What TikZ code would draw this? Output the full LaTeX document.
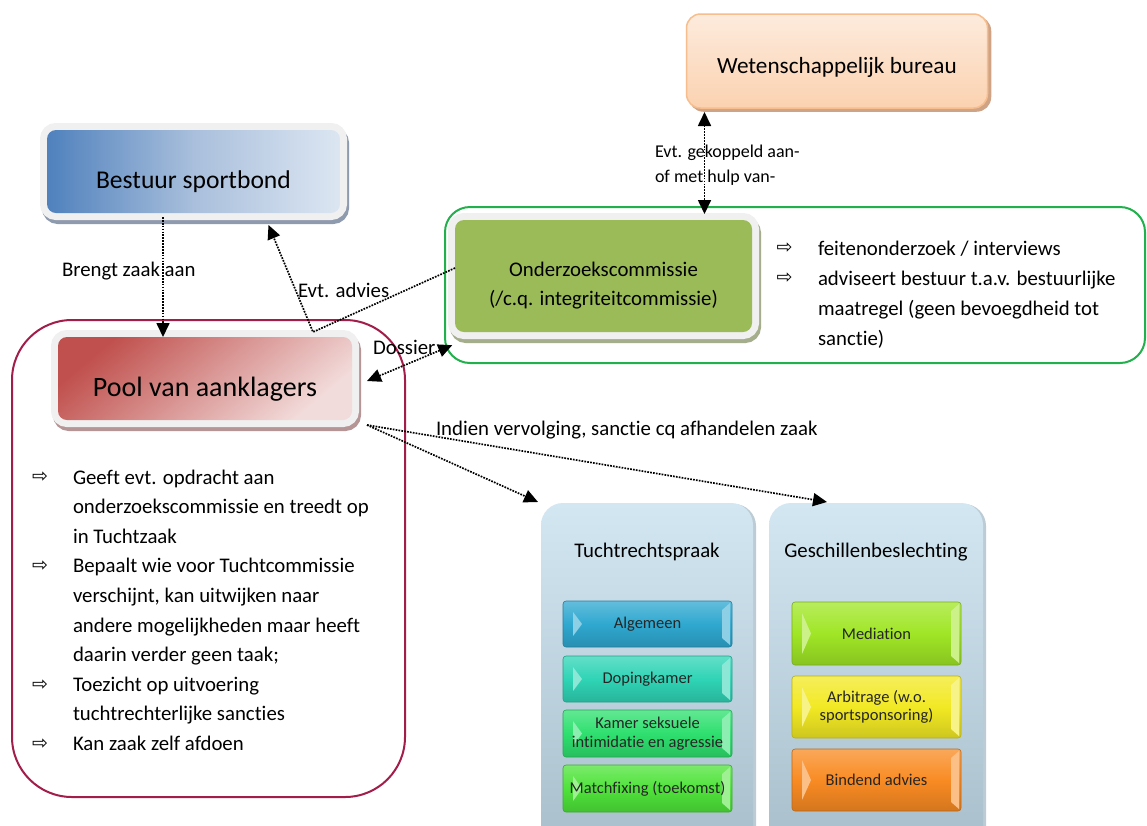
\documentclass[tikz,border=0pt]{standalone}
\usepackage{fontspec}
\setmainfont{Carlito}[Ligatures={NoCommon,NoRequired}]
\newfontfamily\symfont{DejaVu Sans}
\usetikzlibrary{arrows.meta}
\definecolor{bsL}{HTML}{4F81BD}
\definecolor{bsR}{HTML}{DCE6F2}
\definecolor{bsM}{HTML}{A9BFDC}
\definecolor{rimgray}{HTML}{F0F0F0}
\definecolor{bsShadow}{HTML}{8E9AAE}
\definecolor{plTL}{HTML}{C0504D}
\definecolor{plBR}{HTML}{F2DCDB}
\definecolor{plShadow}{HTML}{B59595}
\definecolor{ozGreen}{HTML}{9BBB59}
\definecolor{ozShadow}{HTML}{A4AE8C}
\definecolor{wbTop}{HTML}{FDEBDD}
\definecolor{wbBot}{HTML}{FBD2B0}
\definecolor{wbBorder}{HTML}{F7BD8C}
\definecolor{wbShadow}{HTML}{CFA386}
\definecolor{redFrame}{HTML}{A31D4A}
\definecolor{greenFrame}{HTML}{22B04C}
\definecolor{ctTop}{HTML}{D3E7F2}
\definecolor{ctBot}{HTML}{A8BFCB}
\definecolor{ctShadow}{HTML}{BCCBD4}
\definecolor{cAlg}{HTML}{2FA8D0}
\definecolor{cDop}{HTML}{2FD4B6}
\definecolor{cKam}{HTML}{2EE06F}
\definecolor{cMat}{HTML}{4FE33A}
\definecolor{cMed}{HTML}{A0E626}
\definecolor{cArb}{HTML}{F2E924}
\definecolor{cBin}{HTML}{F98B23}
\newcommand\bevelhl[2]{%
  \fill[#2!55!white] ([xshift=10pt,yshift=-11pt]#1.north west) -- ([xshift=19pt]#1.west) -- ([xshift=10pt,yshift=11pt]#1.south west) -- cycle;
  \fill[#2!55!white] ([xshift=-10pt,yshift=-9pt]#1.north east) -- ([xshift=-2pt,yshift=-2pt]#1.north east) -- ([xshift=-2pt,yshift=2pt]#1.south east) -- ([xshift=-10pt,yshift=9pt]#1.south east) -- cycle;
}
\begin{document}
\begin{tikzpicture}[x=1pt,y=-1pt,
  every node/.style={inner sep=0pt, outer sep=0pt},
  base/.style={font=\fontsize{20.8}{25}\selectfont},
  small/.style={font=\fontsize{18}{22}\selectfont},
  itemfont/.style={font=\fontsize{16.5}{18.5}\selectfont},
  bullet/.style={font=\symfont\fontsize{19}{19}\selectfont},
  conn/.style={line width=1.7pt, dash pattern=on 1.7pt off 1.2pt, -{Triangle[length=14pt,width=13pt]}},
  conntwo/.style={line width=1.7pt, dash pattern=on 1.7pt off 1.2pt, {Triangle[length=14pt,width=13pt]}-{Triangle[length=14pt,width=13pt]}},
  rimmed/.style={rounded corners=9pt,
     preaction={fill=#1, draw=#1, line width=14pt, transform canvas={xshift=2pt,yshift=-4pt}},
     preaction={fill=rimgray, draw=rimgray, line width=14pt}},
  container/.style={rounded corners=22pt, top color=ctTop, bottom color=ctBot,
     preaction={fill=ctShadow, transform canvas={xshift=3pt,yshift=-1pt}},
     minimum width=212pt, minimum height=345pt},
  itembox/.style={rounded corners=3pt, draw=#1!75!black, line width=0.6pt,
     top color=#1!75!white, bottom color=#1!85!black, middle color=#1,
     minimum width=169pt},
  itemtext/.style={itemfont, text=black!85, align=center},
  frame/.style={rounded corners=#1, line width=2pt},
]
\useasboundingbox (0,0) rectangle (1147,825);
\clip (0,0) rectangle (1147,825);
\fill[white] (0,0) rectangle (1147,825);

% containers
\node[container] (tucht) at (647,675.5) {};
\node[base] (tuchttitle) at (647,552) {Tuchtrechtspraak};
\node[container, minimum width=214pt] (gesch) at (876,675.5) {};
\node[base] (geschtitle) at (876,552) {Geschillenbeslechting};

% items
\node[itembox=cAlg, minimum height=46pt] (alg) at (647.5,624) {};
\node[itembox=cDop, minimum height=46pt] (dop) at (647.5,679) {};
\node[itembox=cKam, minimum height=47pt] (kam) at (647.5,733.5) {};
\node[itembox=cMat, minimum height=47pt] (mat) at (647.5,788.5) {};
\node[itembox=cMed, minimum height=63pt] (med) at (876.5,633.5) {};
\node[itembox=cArb, minimum height=62pt] (arb) at (876.5,707) {};
\node[itembox=cBin, minimum height=62pt] (bin) at (876.5,780) {};
\bevelhl{alg}{cAlg}
\bevelhl{dop}{cDop}
\bevelhl{kam}{cKam}
\bevelhl{mat}{cMat}
\bevelhl{med}{cMed}
\bevelhl{arb}{cArb}
\bevelhl{bin}{cBin}
\node[itemtext] (algt) at (alg) {Algemeen};
\node[itemtext] (dopt) at (dop) {Dopingkamer};
\node[itemtext] (kamt) at (kam) {Kamer seksuele\\intimidatie en agressie};
\node[itemtext] (matt) at (mat) {Matchfixing (toekomst)};
\node[itemtext] (medt) at (med) {Mediation};
\node[itemtext] (arbt) at (arb) {Arbitrage (w.o.\\sportsponsoring)};
\node[itemtext] (bint) at (bin) {Bindend advies};

% frames
\node[frame=60pt, draw=redFrame, minimum width=393pt, minimum height=477pt] (poolframe) at (208.5,558.5) {};
\node[frame=25pt, draw=greenFrame, minimum width=700pt, minimum height=156pt] (ozframe) at (795,285) {};

% boxes
\node[rimmed=bsShadow, left color=bsL, right color=bsR, middle color=bsM,
      minimum width=293pt, minimum height=83pt,
      label={[font=\fontsize{25.6}{30}\selectfont, yshift=-10pt]center:Bestuur sportbond}] (bestuur) at (193.5,171.5) {};
\node[rimmed=plShadow, top color=plTL, bottom color=plBR, shading angle=40,
      minimum width=294pt, minimum height=83pt,
      label={[font=\fontsize{28}{32}\selectfont, yshift=-11pt]center:Pool van aanklagers}] (pool) at (205,378.5) {};
\node[rimmed=ozShadow, fill=ozGreen, minimum width=297pt, minimum height=112pt,
      label={[align=center, yshift=-9.5pt, font=\fontsize{20.8}{29}\selectfont]center:Onderzoekscommissie\\(/c.q. integriteitcommissie)}] (onder) at (603.5,276) {};
\node[rounded corners=14pt, top color=wbTop, bottom color=wbBot, draw=wbBorder, line width=1.5pt,
      preaction={fill=wbShadow, draw=wbShadow, line width=1.5pt, transform canvas={xshift=3pt,yshift=-3pt}},
      minimum width=301pt, minimum height=94pt,
      label={[font=\fontsize{23.2}{28}\selectfont, yshift=-6pt]center:Wetenschappelijk bureau}] (wet) at (837,61) {};

% connectors
\coordinate (advbend) at (313,332);
\draw[conn, shorten <=4pt] (bestuur.south -| 163,0) -- (pool.north -| 163,0);
\draw[conn, shorten >=13pt] ([yshift=8pt]onder.west) -- (advbend) -- ([xshift=70pt]bestuur.south);
\draw[conntwo, shorten <=3pt] ([yshift=-12pt]onder.south west) -- ([xshift=15pt,yshift=-2.5pt]pool.east);
\draw[conntwo, shorten <=4pt, shorten >=6pt] ([xshift=18pt]wet.south west) -- ([xshift=18pt]wet.south west |- onder.north);
\coordinate (indstart) at ([xshift=15pt,yshift=-5pt]pool.south east);
\draw[conn] (indstart) -- ([xshift=-3pt,yshift=1pt]tucht.north west);
\draw[conn] (indstart) -- ([xshift=-49pt,yshift=1pt]gesch.north);

% connector labels
\node[base, anchor=west] (brengt) at (62,271) {Brengt zaak aan};
\node[base, anchor=west] (advies) at (298,290) {Evt. advies};
\node[base, anchor=west] (dossier) at (373,347) {Dossier};
\node[base, anchor=west] (indien) at (436,430) {Indien vervolging, sanctie cq afhandelen zaak};
\node[small, anchor=base west] (gek1) at (655,157) {Evt. gekoppeld aan-};
\node[small, anchor=base west] (gek2) at (655,182.5) {of met hulp van-};

% right bullets
\node[bullet] (rb1) at (784.5,248) {⇨};
\node[bullet] (rb2) at (784.5,278) {⇨};
\node[base, anchor=base west] (r1) at (818,255) {feitenonderzoek / interviews};
\node[base, anchor=base west] (r2) at (818,285) {adviseert bestuur t.a.v. bestuurlijke};
\node[base, anchor=base west] (r3) at (818,315) {maatregel (geen bevoegdheid tot};
\node[base, anchor=base west] (r4) at (818,345) {sanctie)};

% left bullets
\node[bullet] (lb1) at (40,477.5) {⇨};
\node[bullet] (lb2) at (40,566.3) {⇨};
\node[bullet] (lb3) at (40,684.7) {⇨};
\node[bullet] (lb4) at (40,743.9) {⇨};
\node[base, anchor=base west] (l1) at (73,484) {Geeft evt. opdracht aan};
\node[base, anchor=base west] (l2) at (73,513.6) {onderzoekscommissie en treedt op};
\node[base, anchor=base west] (l3) at (73,543.2) {in Tuchtzaak};
\node[base, anchor=base west] (l4) at (73,572.8) {Bepaalt wie voor Tuchtcommissie};
\node[base, anchor=base west] (l5) at (73,602.4) {verschijnt, kan uitwijken naar};
\node[base, anchor=base west] (l6) at (73,632) {andere mogelijkheden maar heeft};
\node[base, anchor=base west] (l7) at (73,661.6) {daarin verder geen taak;};
\node[base, anchor=base west] (l8) at (73,691.2) {Toezicht op uitvoering};
\node[base, anchor=base west] (l9) at (73,720.8) {tuchtrechterlijke sancties};
\node[base, anchor=base west] (l10) at (73,750.4) {Kan zaak zelf afdoen};
\end{tikzpicture}
\end{document}
